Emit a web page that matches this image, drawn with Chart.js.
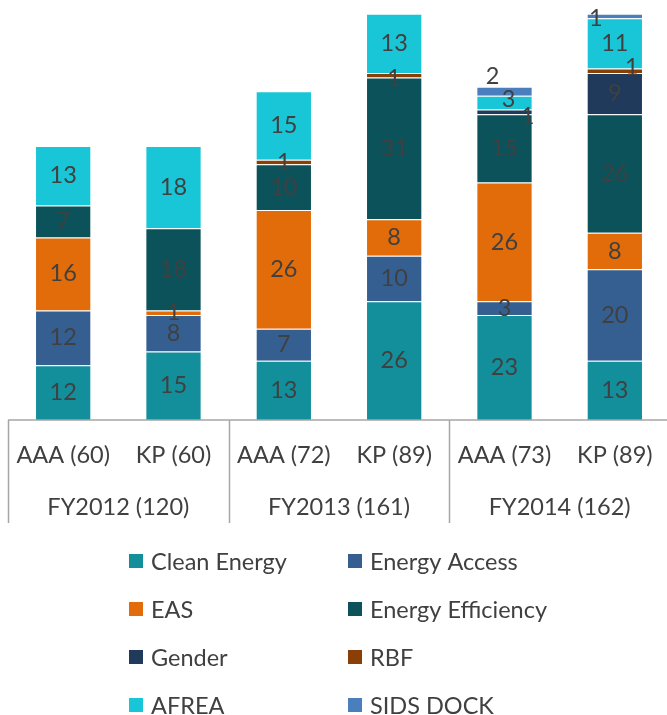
<!DOCTYPE html>
<html>
<head>
<meta charset="utf-8">
<script src="https://cdn.jsdelivr.net/npm/chart.js@4"></script>
<style>
  html, body { margin: 0; padding: 0; background: #ffffff; overflow: hidden; }
  #chart { display: block; }
</style>
</head>
<body>
<canvas id="chart" width="670" height="715"></canvas>
<script>
// Product counts per line of business, stacked by programme
const categories = ['AAA (60)', 'KP (60)', 'AAA (72)', 'KP (89)', 'AAA (73)', 'KP (89)'];
const fiscalGroups = ['FY2012 (120)', 'FY2013 (161)', 'FY2014 (162)'];

const cleanEnergy      = [12, 15, 13, 26, 23, 13];
const energyAccess     = [12,  8,  7, 10,  3, 20];
const eas              = [16,  1, 26,  8, 26,  8];
const energyEfficiency = [ 7, 18, 10, 31, 15, 26];
const gender           = [null, null, null, null, 1, 9];
const rbf              = [null, null, 1, 1, null, 1];
const afrea            = [13, 18, 15, 13,  3, 11];
const sidsDock         = [null, null, null, null, 2, 1];

const FONT = 'Lato, "Open Sans", sans-serif';
const FONT_SIZE = 23.5;
const TEXT = '#404040';
const RULE = '#a6a6a6';

const series = [
  { label: 'Clean Energy',      data: cleanEnergy,      color: '#138f9b' },
  { label: 'Energy Access',     data: energyAccess,     color: '#355f91' },
  { label: 'EAS',               data: eas,              color: '#e36c0a' },
  { label: 'Energy Efficiency', data: energyEfficiency, color: '#0b525b' },
  { label: 'Gender',            data: gender,           color: '#1f3a5a' },
  { label: 'RBF',               data: rbf,              color: '#8a3f06' },
  { label: 'AFREA',             data: afrea,            color: '#19c6d7' },
  { label: 'SIDS DOCK',         data: sidsDock,         color: '#4a7ebd' }
];

// Small nudges for labels on thin segments, keyed "dataset:index"
const labelNudges = {
  '4:4': [23, 5],
  '5:3': [0, 3],
  '5:5': [17, -3],
  '6:4': [4, -3],
  '7:4': [-12, -15],
  '7:5': [-19, 2]
};

const segmentLabels = {
  id: 'segmentLabels',
  afterDatasetsDraw(chart) {
    const ctx = chart.ctx;
    ctx.save();
    ctx.font = FONT_SIZE + 'px ' + FONT;
    ctx.fillStyle = TEXT;
    ctx.textAlign = 'center';
    ctx.textBaseline = 'middle';
    chart.data.datasets.forEach((ds, di) => {
      const meta = chart.getDatasetMeta(di);
      meta.data.forEach((bar, i) => {
        const v = ds.data[i];
        if (v == null || v === 0) return;
        const p = bar.getProps(['x', 'y', 'base'], true);
        const n = labelNudges[di + ':' + i] || [0, 0];
        ctx.fillText(String(v), p.x + n[0], (p.y + p.base) / 2 + n[1]);
      });
    });
    ctx.restore();
  }
};

// Two-level category axis with group separators
const groupedAxis = {
  id: 'groupedAxis',
  afterDraw(chart) {
    const ctx = chart.ctx;
    const area = chart.chartArea;
    const xs = chart.scales.x;
    const step = xs.getPixelForValue(1) - xs.getPixelForValue(0);
    const bottom = area.bottom;
    ctx.save();
    ctx.strokeStyle = RULE;
    ctx.lineWidth = 1.5;
    ctx.beginPath();
    ctx.moveTo(area.left, bottom);
    ctx.lineTo(area.right, bottom);
    for (let g = 0; g <= fiscalGroups.length; g++) {
      const x = Math.round(xs.getPixelForValue(g * 2) - step / 2) + 0.5;
      ctx.moveTo(x, bottom);
      ctx.lineTo(x, bottom + 103);
    }
    ctx.stroke();

    ctx.fillStyle = TEXT;
    ctx.font = FONT_SIZE + 'px ' + FONT;
    ctx.textAlign = 'center';
    ctx.textBaseline = 'middle';
    categories.forEach((c, i) => {
      ctx.fillText(c, xs.getPixelForValue(i), bottom + 35);
    });
    fiscalGroups.forEach((g, gi) => {
      const x = (xs.getPixelForValue(gi * 2) + xs.getPixelForValue(gi * 2 + 1)) / 2;
      ctx.fillText(g, x, bottom + 87);
    });
    ctx.restore();
  }
};

// Two-column legend under the axis
const columnLegend = {
  id: 'columnLegend',
  afterDraw(chart) {
    const ctx = chart.ctx;
    const colX = [129, 348];
    const top = 561, rowGap = 48, box = 14;
    ctx.save();
    ctx.font = FONT_SIZE + 'px ' + FONT;
    ctx.textBaseline = 'middle';
    ctx.textAlign = 'left';
    chart.data.datasets.forEach((ds, i) => {
      const x = colX[i % 2];
      const y = top + Math.floor(i / 2) * rowGap;
      ctx.fillStyle = ds.backgroundColor;
      ctx.fillRect(x, y - box / 2, box, box);
      ctx.fillStyle = TEXT;
      ctx.fillText(ds.label, x + 22, y + 1);
    });
    ctx.restore();
  }
};

new Chart(document.getElementById('chart'), {
  type: 'bar',
  data: {
    labels: categories,
    datasets: series.map(s => ({
      label: s.label,
      data: s.data,
      backgroundColor: s.color,
      borderColor: 'rgba(255,255,255,0.35)',
      borderWidth: 1,
      barPercentage: 0.51,
      categoryPercentage: 1
    }))
  },
  options: {
    responsive: false,
    animation: false,
    devicePixelRatio: 1,
    layout: { padding: { left: 8, right: 0, top: 0, bottom: 295 } },
    plugins: {
      legend: { display: false },
      tooltip: { enabled: false }
    },
    scales: {
      x: { stacked: true, display: false },
      y: { stacked: true, display: false, min: 0, max: 92 }
    }
  },
  plugins: [segmentLabels, groupedAxis, columnLegend]
});
</script>
</body>
</html>
